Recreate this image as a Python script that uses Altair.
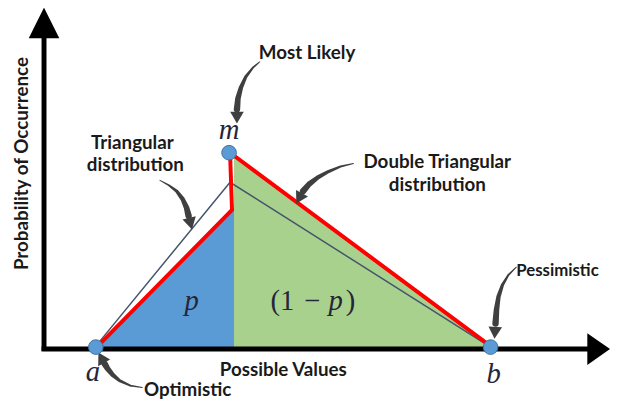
import math
import altair as alt
import pandas as pd

# ---- data (diagram frame: x = possible values, y = drawing height, top = small) ----
pt_names = ["a", "m", "b"]
pt_x = [97, 232, 497]
pt_y = [349, 152, 349]

red_x = [100, 235, 233, 497]
red_y = [347, 210, 152, 348]

tri_x = [97, 233, 497]
tri_y = [348, 182, 349]

blue_x = [100, 237]
blue_top = [347, 208]
green_x = [237, 497]
green_top = [155, 349]
base_level = 350

yaxis_x = [44.5, 44.5]
yaxis_y = [353, 34]
xaxis_x = [42, 597]
xaxis_y = [351, 351]
yhead_x = [29, 44.5, 60]
yhead_y = [36, 5, 36]
xhead_y = [335, 351, 367]
xhead_x = [595, 618, 595]

arrow_paths = {
    "likely": [(263, 60), (256, 66), (249, 75), (244, 86), (241, 97), (240, 108)],
    "tri": [(162, 180), (171, 185), (179, 191), (185, 199), (189, 208), (191, 216)],
    "double": [(358, 163), (345, 166), (333, 171), (322, 177), (313, 184), (307, 191)],
    "pess": [(523, 268), (515, 276), (509, 286), (505, 298), (503, 311), (502, 325)],
    "opt": [(144, 390), (132, 388), (121, 383), (114, 377), (109, 371), (106, 366)],
}
arrow_tips = {
    "likely": (240, 121),
    "tri": (194, 228),
    "double": (301, 202),
    "pess": (501, 340),
    "opt": (101, 357),
}
arrow_width = [1.0, 2.0, 3.2, 4.4, 5.6, 6.5]

bold_text = ["Most Likely", "Triangular", "distribution", "Double Triangular",
             "distribution", "Possible Values", "Optimistic"]
bold_x = [311, 134, 137, 443, 443, 287, 190]
bold_y = [51, 142, 165, 162, 185, 372, 393]

math_text = ["m", "a", "b", "p"]
math_x = [232, 94, 500, 194]
math_y = [138, 383, 385, 311]

frac_text = ["(1", "\u2212", ")"]
frac_x = [286, 316, 355]
frac_y = [311, 311, 311]

# ---- build tables ----
X = alt.Scale(domain=[8, 618], nice=False, zero=False)
Y = alt.Scale(domain=[8, 402], nice=False, zero=False, reverse=True)

blue_df = pd.DataFrame({"x": blue_x, "y": blue_top, "y2": [base_level] * 2})
green_df = pd.DataFrame({"x": green_x, "y": green_top, "y2": [base_level] * 2})
red_df = pd.DataFrame({"x": red_x, "y": red_y, "o": range(len(red_x))})
tri_df = pd.DataFrame({"x": tri_x, "y": tri_y, "o": range(len(tri_x))})
pts_df = pd.DataFrame({"n": pt_names, "x": pt_x, "y": pt_y})
axes_df = pd.DataFrame({"x": [yaxis_x[0], xaxis_x[0]], "x2": [yaxis_x[1], xaxis_x[1]],
                        "y": [yaxis_y[0], xaxis_y[0]], "y2": [yaxis_y[1], xaxis_y[1]]})
yhead_df = pd.DataFrame({"x": yhead_x, "y": yhead_y, "y2": [yhead_y[0]] * 3})
xhead_df = pd.DataFrame({"y": xhead_y, "x": xhead_x, "x2": [xhead_x[0]] * 3})

rows = []
heads = []
for k, pts in arrow_paths.items():
    for i, (px, py) in enumerate(pts):
        rows.append({"k": k, "i": i, "x": px, "y": py, "w": arrow_width[i]})
    tx, ty = arrow_tips[k]
    lx, ly = pts[-1]
    ang = math.degrees(math.atan2(tx - lx, -(ty - ly))) % 360
    heads.append({"k": k, "x": (tx + lx) / 2, "y": (ty + ly) / 2, "a": ang})
arr_df = pd.DataFrame(rows)
head_df = pd.DataFrame(heads)

bold_df = pd.DataFrame({"t": bold_text, "x": bold_x, "y": bold_y})
math_df = pd.DataFrame({"t": math_text, "x": math_x, "y": math_y})
frac_df = pd.DataFrame({"t": frac_text, "x": frac_x, "y": frac_y})

XE = alt.X("x:Q", scale=X, axis=None)
YE = alt.Y("y:Q", scale=Y, axis=None)

blue = alt.Chart(blue_df).mark_area(color="#5B9BD5", opacity=1).encode(x=XE, y=YE, y2="y2:Q")
green = alt.Chart(green_df).mark_area(color="#A9D18E", opacity=1).encode(x=XE, y=YE, y2="y2:Q")
tri = alt.Chart(tri_df).mark_line(color="#44546A", strokeWidth=1.5).encode(x=XE, y=YE, order="o:Q")
red = alt.Chart(red_df).mark_line(color="#FF0000", strokeWidth=4, strokeJoin="miter").encode(
    x=XE, y=YE, order="o:Q")
axes = alt.Chart(axes_df).mark_rule(color="#000000", strokeWidth=5).encode(
    x=XE, x2="x2:Q", y=YE, y2="y2:Q")
yhead = alt.Chart(yhead_df).mark_area(color="#000000", opacity=1).encode(x=XE, y=YE, y2="y2:Q")
xhead = alt.Chart(xhead_df).mark_area(color="#000000", opacity=1, orient="horizontal").encode(
    y=YE, x=XE, x2="x2:Q")
pts = alt.Chart(pts_df).mark_point(filled=True, size=220, color="#5B9BD5", opacity=1,
                                   stroke="#41719C", strokeWidth=1).encode(x=XE, y=YE)
arrows = alt.Chart(arr_df).mark_trail(color="#3F3F3F").encode(
    x=XE, y=YE, detail="k:N", order="i:Q", size=alt.Size("w:Q", scale=None, legend=None))
ahead = alt.Chart(head_df).mark_point(shape="triangle", filled=True, size=190,
                                      color="#3F3F3F", opacity=1).encode(
    x=XE, y=YE, angle=alt.Angle("a:Q", scale=None))

FS = 19
bold = alt.Chart(bold_df).mark_text(font="Lato", fontWeight="bold", fontSize=FS,
                                    color="#1A1A1A", align="center", baseline="middle").encode(
    x=XE, y=YE, text="t:N")
pess = alt.Chart(pd.DataFrame({"t": ["Pessimistic"], "x": [523], "y": [272]})).mark_text(
    font="Lato", fontWeight="bold", fontSize=17, color="#1A1A1A", align="left",
    baseline="middle").encode(x=XE, y=YE, text="t:N")
ylab = alt.Chart(pd.DataFrame({"t": ["Probability of Occurrence"], "x": [22], "y": [163]})).mark_text(
    font="Lato", fontWeight="bold", fontSize=FS, color="#1A1A1A", align="center",
    baseline="middle", angle=270).encode(x=XE, y=YE, text="t:N")
mathl = alt.Chart(math_df).mark_text(font="Liberation Serif", fontStyle="italic", fontSize=29,
                                     color="#26263A", align="center", baseline="alphabetic").encode(
    x=XE, y=YE, text="t:N")
frac = alt.Chart(frac_df).mark_text(font="Liberation Serif", fontSize=29, color="#26263A",
                                    align="center", baseline="alphabetic").encode(
    x=XE, y=YE, text="t:N")
fracp = alt.Chart(pd.DataFrame({"t": ["p"], "x": [340], "y": [311]})).mark_text(
    font="Liberation Serif", fontStyle="italic", fontSize=29, color="#26263A",
    align="center", baseline="alphabetic").encode(x=XE, y=YE, text="t:N")

chart = alt.layer(
    blue, green, tri, red, axes, yhead, xhead, arrows, ahead, pts,
    bold, pess, ylab, mathl, frac, fracp
).properties(
    width=610, height=394, padding=0,
    autosize=alt.AutoSizeParams(type="none"), background="white"
).configure_view(stroke=None)

chart.save("out.html", embed_options={"renderer": "svg", "actions": False})
